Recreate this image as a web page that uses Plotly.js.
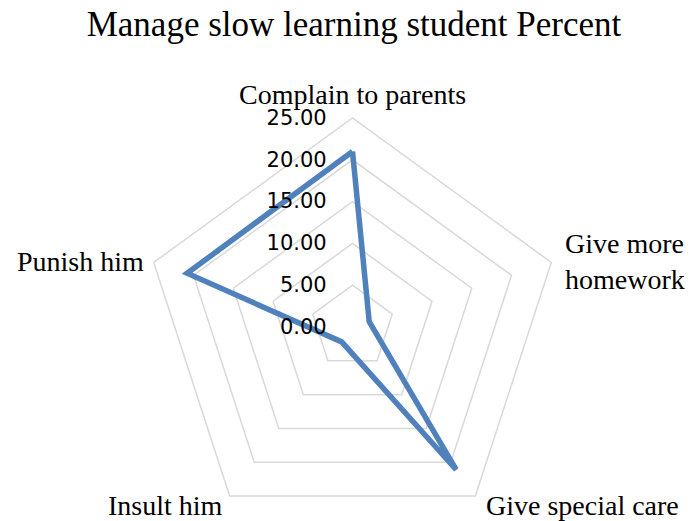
<!DOCTYPE html>
<html>
<head>
<meta charset="utf-8">
<script src="https://cdn.plot.ly/plotly-3.0.1.min.js"></script>
<style>
html, body { margin: 0; padding: 0; background: #fff; }
#wrap { width: 692px; height: 521px; overflow: hidden; position: relative; }
#chart { width: 692px; height: 545px; }
</style>
</head>
<body>
<div id="wrap"><div id="chart"></div></div>
<script>
// Data
const categories = ["Complain to parents", "Give more homework", "Give special care", "Insult him", "Punish him"];
const categoryLabels = ["Complain to parents", "Give more<br>homework", "Give special care", "Insult him", "Punish him"];
const percent = [21.0, 2.1, 21.1, 2.2, 20.8];
const radialTicks = [0, 5, 10, 15, 20, 25];
const chartTitle = "Manage slow learning student Percent";

const W = 692, H = 545;
const cx = 352.5, cyTop = 327, R = 209;

// label placement (pixels from top-left) for the category labels
const labelPos = [
  { x: 352, y: 94, xanchor: "center" },
  { x: 563, y: 261, xanchor: "left" },
  { x: 582, y: 505, xanchor: "center" },
  { x: 165, y: 505, xanchor: "center" },
  { x: 146, y: 261, xanchor: "right" }
];

const trace = {
  type: "scatterpolar",
  mode: "lines",
  r: percent.concat([percent[0]]),
  theta: categories.concat([categories[0]]),
  line: { color: "#4F81BD", width: 5.5 },
  hoverinfo: "skip",
  showlegend: false
};

const annotations = categoryLabels.map((t, i) => ({
  text: t,
  xref: "paper", yref: "paper",
  x: labelPos[i].x / W,
  y: 1 - labelPos[i].y / H,
  xanchor: labelPos[i].xanchor,
  yanchor: "middle",
  align: "left",
  showarrow: false,
  font: { family: "Liberation Serif, Times New Roman, serif", size: 28, color: "#000" }
}));

const layout = {
  width: W,
  height: H,
  margin: { l: 0, r: 0, t: 0, b: 0, pad: 0 },
  paper_bgcolor: "#ffffff",
  showlegend: false,
  title: {
    text: chartTitle,
    font: { family: "Liberation Serif, Times New Roman, serif", size: 35, color: "#000" },
    x: 354 / W, xanchor: "center", xref: "paper",
    y: 1 - 24 / H, yanchor: "middle", yref: "container"
  },
  annotations: annotations,
  polar: {
    domain: {
      x: [(cx - R) / W, (cx + R) / W],
      y: [(H - cyTop - R) / H, (H - cyTop + R) / H]
    },
    bgcolor: "rgba(0,0,0,0)",
    gridshape: "linear",
    radialaxis: {
      range: [0, 25],
      tickmode: "array",
      tickvals: radialTicks,
      tickformat: ".2f",
      angle: 90,
      tickangle: 90,
      side: "counterclockwise",
      showline: false,
      ticks: "outside",
      ticklen: 18,
      tickcolor: "rgba(0,0,0,0)",
      showgrid: true,
      gridcolor: "#d9d9d9",
      gridwidth: 1.5,
      tickfont: { family: "DejaVu Sans, sans-serif", size: 21, color: "#000" }
    },
    angularaxis: {
      type: "category",
      direction: "clockwise",
      rotation: 90,
      categoryarray: categories,
      showticklabels: false,
      showgrid: false,
      showline: true,
      linecolor: "#d9d9d9",
      linewidth: 1.5,
      ticks: ""
    }
  }
};

Plotly.newPlot("chart", [trace], layout, { displayModeBar: false, staticPlot: true });
</script>
</body>
</html>
